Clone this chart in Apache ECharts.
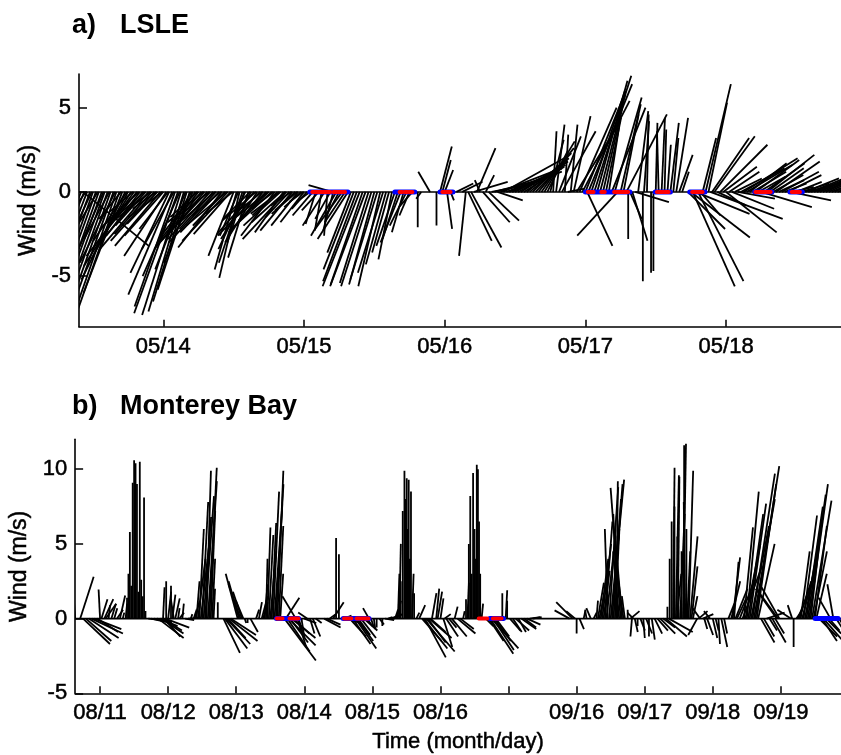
<!DOCTYPE html>
<html><head><meta charset="utf-8">
<script src="https://cdn.jsdelivr.net/npm/echarts@6/dist/echarts.min.js"></script>
<style>html,body{margin:0;padding:0;background:#fff}#c{width:841px;height:755px}</style>
</head><body><div id="c"></div>
<script>
// ---------- Panel a) LSLE : time in hours since 05/13 00:00, [hour, u (m/s), v (m/s)] ----------
const lsleStart = 9.62, lsleEnd = 139.6;
const lsleTickHours = [24, 48, 72, 96, 120];
const lsleTickLabels = ['05/14', '05/15', '05/16', '05/17', '05/18'];
const lsleYTicks = [-5, 0, 5];
const lsleSticks = [
 [10.0,-1.0,-2.4],[10.3,3.9,-3.2],[10.5,-1.6,-4.0],[11.0,-2.0,-5.2],[11.5,-2.2,-6.0],[12.0,-2.4,-6.8],[12.5,-2.6,-7.2],[13.0,-2.5,-7.0],[13.5,-2.7,-7.4],[14.0,-2.4,-6.6],
 [14.5,-2.6,-7.2],[15.0,-2.5,-7.0],[15.5,-2.6,-7.3],[16.0,-2.4,-6.9],[16.5,-2.5,-7.1],[17.0,-2.3,-6.0],[17.5,-2.6,-5.2],[18.0,-2.2,-4.0],[18.5,-2.8,-4.4],[19.0,-2.4,-3.3],
 [19.5,-3.0,-3.8],[20.0,-2.0,-2.6],[20.5,-2.6,-3.1],[21.0,-1.8,-2.0],[21.5,-2.9,-3.4],[22.0,-2.2,-2.5],[22.5,-2.6,-2.9],[23.0,-1.8,-1.9],[23.5,-2.7,-3.2],[24.0,-2.3,-2.6],
 [24.5,-2.5,-3.8],[25.0,-2.3,-4.8],[25.5,-2.6,-6.1],[26.0,-2.4,-6.8],[26.5,-2.6,-7.2],[27.0,-2.3,-7.3],[27.5,-2.1,-7.1],[28.0,-2.0,-6.5],[28.5,-1.9,-5.8],[29.0,-1.7,-4.2],
 [29.5,-2.2,-2.8],[30.0,-2.4,-3.0],[30.5,-2.8,-3.4],[31.0,-2.2,-2.6],[31.5,-3.0,-3.2],[32.0,-2.5,-2.8],[32.5,-2.0,-2.2],[33.0,-2.8,-3.0],[33.5,-2.3,-2.4],[34.0,-2.6,-3.3],
 [34.5,-1.9,-2.0],[35.0,-2.7,-2.9],[35.5,-2.2,-2.5],[36.0,-1.5,-3.8],[36.5,-1.3,-4.6],[37.0,-1.2,-5.1],[37.5,-1.4,-4.2],[38.0,-1.6,-3.4],[38.5,-1.2,-3.9],[39.0,-1.8,-2.8],
 [39.5,-2.2,-2.5],[40.0,-1.9,-3.0],[40.5,-2.5,-2.6],[41.0,-1.6,-2.0],[41.5,-2.2,-2.4],[42.0,-1.8,-1.7],[42.5,-2.4,-2.2],[43.0,-2.0,-2.6],[43.5,-1.5,-1.4],[44.0,-2.2,-2.0],
 [44.5,-1.7,-2.4],[45.0,-2.6,-2.8],[45.5,-1.4,-1.5],[46.0,-1.9,-2.3],[46.5,-1.2,-1.1],[47.0,-1.6,-2.0],[47.5,-1.0,-0.9],[48.0,-1.4,-1.8],[48.5,-0.9,-1.0],[49.0,-0.8,-0.6],
 [10.8,-0.9,-1.2],[11.8,-1.7,-3.6],[12.8,-1.2,-2.0],[13.8,-2.0,-4.6],[14.8,-1.5,-2.8],[15.8,-2.1,-4.2],[16.8,-1.3,-1.6],[17.8,-2.0,-2.9],[18.8,-1.4,-1.2],[19.8,-2.3,-2.2],
 [20.8,-1.6,-1.4],[21.8,-2.3,-1.8],[22.8,-1.4,-1.0],[23.8,-2.0,-1.5],[24.8,-1.7,-2.2],[25.8,-1.9,-3.4],[26.8,-2.2,-5.0],[27.8,-1.8,-4.6],[28.8,-1.4,-2.4],[29.8,-1.6,-1.5],
 [30.8,-2.1,-1.8],[31.8,-1.5,-1.2],[32.8,-2.2,-1.9],[33.8,-1.7,-1.4],[34.8,-2.4,-2.0],[35.8,-1.6,-1.3],[36.8,-1.1,-2.6],[37.8,-1.0,-3.0],[38.8,-1.6,-1.6],[39.8,-2.0,-1.7],
 [40.8,-1.5,-1.2],[41.8,-1.9,-1.5],[42.8,-1.3,-1.0],[43.8,-1.7,-1.3],[44.8,-2.0,-1.8],[45.8,-1.2,-0.8],[46.8,-1.5,-1.3],[47.8,-0.8,-0.6],
 [49.5,-1.2,-1.4],[50.0,-0.6,-1.9],[50.5,-1.0,-1.1],[51.0,-0.4,-2.3],[51.5,-1.3,-2.0],[52.0,-0.2,-2.6],[52.5,-0.9,-1.6],[52.8,-1.4,0.4],[53.0,-0.6,-2.3],[53.5,-1.5,-2.6],
 [54.0,-0.8,-1.5],[54.5,-1.6,-2.2],[55.0,-1.2,-1.8],[55.5,-1.8,-2.8],[56.0,-1.4,-3.6],[56.5,-1.8,-4.6],[57.0,-2.0,-5.3],[57.5,-2.2,-5.6],[58.0,-1.9,-5.5],[58.5,-2.1,-5.6],
 [59.0,-1.7,-5.4],[59.5,-1.8,-5.6],[60.0,-1.5,-5.5],[60.5,-1.6,-5.2],[61.0,-1.3,-5.6],[61.5,-1.5,-4.8],[62.0,-1.2,-4.3],[62.5,-1.0,-3.6],[63.0,-0.8,-4.0],[63.5,-1.1,-3.2],
 [64.0,-0.9,-2.8],[64.5,-1.2,-3.0],[65.0,-0.7,-2.4],[65.5,-1.0,-2.0],[66.0,-0.6,-1.4],[66.5,-0.8,-0.9],[67.4,0.0,-2.1],[68.0,-0.3,-0.4],[69.5,-0.7,1.2],[70.6,0.0,-2.0],
 [71.2,0.7,2.7],[71.6,0.5,1.9],[72.0,0.5,1.3],[72.4,0.3,-2.2],[73.0,0.2,-0.5],[74.0,1.0,0.5],[75.0,1.2,0.6],[75.6,-0.4,-3.8],[76.0,1.4,-2.9],[76.5,1.8,-3.3],
 [77.0,2.0,0.6],[77.5,1.1,2.6],[78.0,-0.3,0.7],[78.5,1.6,-1.8],[79.0,0.5,1.0],[79.5,1.8,-1.7],[80.0,2.6,0.5],[80.5,3.0,0.8],[81.0,1.5,-0.5],[81.5,3.6,1.4],
 [82.0,3.8,2.1],[82.5,3.3,1.2],[83.0,3.0,1.3],[83.5,2.8,1.2],[84.0,3.0,1.6],[84.5,2.6,1.4],[85.0,2.8,1.8],[85.5,2.4,1.5],[86.0,2.5,2.0],[86.5,2.2,1.8],
 [87.0,2.3,2.3],[87.5,1.9,2.0],[88.0,2.1,2.6],[88.5,1.6,2.3],[89.0,1.8,3.0],[89.5,1.2,2.4],[90.0,0.8,3.1],[90.5,0.2,3.6],[91.0,0.5,4.0],[91.5,1.3,3.3],
 [92.0,2.0,3.6],[92.5,0.2,3.4],[93.0,1.0,0.2],[93.5,0.4,4.0],[94.0,1.0,4.5],[94.5,2.6,4.2],[95.0,2.2,5.0],[95.5,2.8,5.4],[96.0,2.4,6.0],[96.3,1.5,-3.2],
 [96.5,2.6,6.4],[97.0,2.0,6.0],[97.5,2.2,6.9],[98.0,1.8,6.6],[98.5,1.5,5.8],[99.0,1.2,5.2],[99.5,0.9,4.4],[100.0,0.6,3.8],[100.5,2.0,5.0],[101.0,1.6,5.6],
 [101.5,-2.4,-2.6],[102.0,1.2,5.2],[102.5,0.9,4.6],[103.0,2.4,4.6],[103.3,0.0,-2.8],[103.6,0.7,-1.6],[104.0,0.9,-2.9],[104.5,2.0,-0.6],[105.0,0.6,4.8],[105.8,0.0,-5.3],
 [106.0,0.3,4.2],[106.5,0.1,4.6],[107.2,0.0,-4.8],[107.6,0.0,-4.7],[108.0,0.1,4.1],[108.5,-0.1,3.6],[109.0,0.2,4.4],[109.5,0.1,3.7],[110.0,0.2,2.8],[110.5,0.5,4.1],
 [111.0,0.3,3.2],[111.5,0.7,4.4],[112.0,0.8,2.2],[112.5,0.4,1.2],[113.5,2.2,-2.2],[114.0,3.5,-2.7],[114.3,2.5,-5.6],[114.8,3.2,-1.3],[115.2,2.7,-5.3],[115.6,1.2,-1.4],
 [116.0,0.8,3.2],[116.5,1.5,6.4],[117.0,1.1,5.3],[117.3,4.3,-1.6],[117.6,2.2,3.2],[118.0,2.4,3.3],[118.5,1.7,-0.8],[119.0,2.8,2.8],[119.5,2.0,1.5],[120.0,3.0,-2.4],
 [120.5,1.8,1.2],[121.0,2.5,-1.0],[121.5,1.6,0.8],[122.0,2.2,-0.4],[122.5,2.6,1.4],[123.0,3.2,2.0],[123.5,2.7,1.6],[124.0,2.2,1.7],[124.5,2.0,1.2],[125.0,2.6,1.9],
 [125.5,1.6,0.9],[126.0,3.0,-0.9],[126.5,2.4,1.7],[127.0,2.8,2.2],[127.5,2.0,1.4],[128.0,1.8,1.0],[128.5,2.6,1.8],[129.0,1.5,0.7],[129.5,2.2,1.2],[130.0,1.3,0.5],
 [130.5,2.0,1.0],[131.0,2.4,-0.5],[131.5,1.2,0.3],[132.0,1.5,0.6],[132.5,1.0,0.2],[133.0,1.6,0.5],[133.5,2.0,0.8],[134.0,1.4,0.4],[134.5,2.2,0.9],[135.0,2.5,1.0],
 [135.5,1.8,0.7],[136.0,2.6,1.2],[136.5,2.2,1.0],[137.0,2.8,1.3],[137.5,2.4,1.1],[138.0,2.9,1.2],[138.5,2.6,1.3],[139.0,3.0,1.2],[139.5,2.7,1.4]
];
const lsleBlue = [[49.0,55.5],[63.5,66.9],[71.2,73.4],[96.0,103.6],[107.9,110.5],[113.8,116.4],[124.9,127.8],[130.9,133.0]];
const lsleRed = [[49.4,52.5],[53.0,55.0],[64.3,64.8],[65.2,65.7],[66.0,66.5],[71.6,73.0],[96.4,97.4],[98.7,99.3],[100.9,103.3],[108.2,109.2],[109.5,110.2],[114.2,116.0],[125.0,127.6],[131.2,132.6]];

// ---------- Panel b) Monterey Bay : hours on the concatenated axis (08/11 00:00 = 0) ----------
const mbayStart = -8.8, mbayEnd = 261.2;
const mbayTickHours = [0, 24, 48, 72, 96, 120, 144, 168, 192, 216, 240];
const mbayTickLabels = ['08/11', '08/12', '08/13', '08/14', '08/15', '08/16', '', '09/16', '09/17', '09/18', '09/19'];
const mbayYTicks = [-5, 0, 5, 10];
const mbaySticks = [
 [-8.8,-0.2,3.1],[-7.0,0.9,2.8],[-6.0,1.8,-1.7],[-5.0,1.7,-1.5],[-4.0,2.0,-1.3],[-3.0,2.1,-1.0],[-2.0,1.8,-0.7],[-1.0,1.4,-0.9],[0.0,-0.1,1.95],[0.5,0.4,1.3],
 [1.5,0.6,1.3],[2.0,0.7,1.0],[3.0,0.1,0.9],[4.0,0.3,1.0],[5.0,0.2,0.7],[6.0,0.4,0.6],[7.0,0.35,1.55],[8.0,0.1,0.4],[9.0,0.1,1.0],[9.5,0.0,1.4],
 [10.0,0.0,3.0],[10.5,0.0,5.8],[11.0,0.0,2.2],[11.5,0.0,9.1],[12.0,0.0,10.6],[12.5,0.0,10.4],[13.0,0.0,9.0],[13.5,0.0,1.8],[14.0,0.0,10.5],[14.5,0.0,2.6],
 [15.0,0.0,1.5],[15.5,0.0,8.1],[16.0,0.0,0.5],[17.0,1.0,-0.1],[18.0,0.9,-0.2],[19.0,1.2,-0.3],[20.0,1.0,-0.2],[20.5,1.7,-1.3],[21.0,1.2,-0.5],[21.5,1.5,-1.0],
 [22.0,1.3,-0.8],[22.2,0.1,2.1],[22.5,1.1,-1.2],[23.0,1.6,-0.6],[23.3,0.0,2.5],[24.0,0.2,1.8],[25.0,0.0,2.2],[25.5,0.2,1.6],[26.0,-0.2,1.3],[26.5,0.3,1.35],
 [27.5,0.1,0.7],[28.0,0.3,0.4],[29.0,0.1,1.0],[30.0,0.6,-0.1],[31.0,0.8,0.05],[32.0,0.1,0.3],[33.0,0.2,0.6],[33.5,0.3,1.2],[34.0,0.2,2.5],[34.5,0.5,4.0],
 [35.0,0.3,6.0],[35.5,0.6,5.3],[36.0,0.4,7.8],[36.5,0.5,6.8],[37.0,0.6,8.2],[37.5,0.3,9.9],[38.0,0.6,9.2],[38.5,0.5,10.1],[39.0,0.3,7.2],[39.5,0.2,4.0],
 [40.0,0.1,2.0],[41.5,0.0,1.1],[43.5,1.1,-2.3],[44.0,1.5,-2.0],[44.5,1.6,-1.7],[45.0,1.2,-1.3],[45.5,1.9,-1.5],[46.0,1.7,-1.1],[48.5,-0.8,3.0],[49.0,-0.7,2.5],
 [49.5,-0.8,2.3],[50.0,-0.6,1.8],[50.5,-0.5,1.2],[51.0,0.1,-0.3],[52.0,0.0,-0.3],[53.0,0.5,-0.9],[55.0,0.2,0.6],[56.0,0.2,1.1],[57.0,0.4,1.5],[57.5,0.3,1.1],
 [58.0,0.2,2.3],[58.5,0.1,4.0],[59.0,0.2,6.1],[59.5,0.3,5.6],[60.0,0.4,4.5],[60.5,0.3,6.4],[61.0,0.4,8.5],[61.5,0.5,7.3],[62.0,0.5,9.0],[62.5,0.4,9.9],
 [63.0,0.3,6.2],[63.5,0.2,3.0],[65.0,2.1,-2.8],[65.5,0.9,1.4],[66.0,1.5,-2.2],[66.5,1.8,-1.8],[67.0,1.2,-1.6],[67.5,1.6,-1.3],[68.0,1.1,-1.0],[69.0,-0.9,1.5],
 [69.5,0.6,-1.9],[70.0,0.3,-1.0],[71.0,0.2,-1.3],[72.0,0.8,-0.3],[73.0,-0.6,0.4],[74.0,0.3,-1.0],[75.0,0.5,-1.2],[76.0,0.4,-0.3],[79.0,1.1,-0.6],[80.0,0.9,-0.4],
 [81.0,0.4,0.3],[82.2,0.7,1.1],[83.2,0.0,5.4],[84.2,0.0,4.3],[86.0,0.5,0.2],[87.0,0.9,-0.3],[88.0,1.1,-1.2],[89.0,1.2,-1.7],[90.0,1.4,-2.0],[90.5,1.1,-1.5],
 [91.0,0.8,-1.1],[92.0,1.0,-1.3],[93.0,0.9,-0.8],[94.0,0.4,-0.5],[94.8,-0.4,0.7],[95.5,0.2,-0.6],[96.5,0.1,-0.7],[97.5,0.0,-0.6],[98.5,0.3,-0.4],[99.5,0.0,-0.5],
 [100.5,0.6,-0.1],[101.5,0.3,0.1],[102.5,0.5,0.2],[103.5,0.6,0.3],[104.0,0.2,0.6],[104.5,0.3,1.2],[105.0,0.1,3.0],[105.5,0.1,5.0],[106.0,0.0,2.5],[106.7,0.0,7.2],
 [107.3,0.0,9.9],[107.7,0.0,8.0],[108.1,0.0,9.4],[108.5,0.0,6.0],[108.8,0.0,9.3],[109.2,0.0,4.0],[109.6,0.0,8.5],[110.0,0.1,3.0],[110.7,0.0,1.7],[111.5,0.2,0.4],
 [112.5,0.4,0.9],[113.5,1.3,-1.5],[114.0,1.6,-2.0],[114.5,1.4,-2.6],[115.0,1.9,-2.2],[115.5,1.2,-1.6],[116.0,1.5,-1.3],[116.5,1.0,-0.9],[117.0,0.3,1.7],[118.5,0.2,2.0],
 [119.0,0.3,1.8],[120.0,0.2,1.35],[121.0,0.6,-1.9],[121.5,0.4,0.3],[122.0,0.8,-1.2],[123.0,0.5,-0.6],[124.0,1.0,-1.2],[125.0,0.2,0.8],[126.0,1.2,-1.0],[127.0,0.9,-0.7],
 [128.0,0.1,0.5],[129.0,0.0,1.3],[129.5,0.1,2.4],[130.0,0.0,5.0],[130.5,0.0,8.2],[131.0,0.0,3.0],[131.5,0.0,9.75],[132.0,0.0,6.0],[132.5,0.0,4.0],[132.8,0.0,10.3],
 [133.2,0.0,10.0],[133.6,0.0,6.5],[134.0,0.0,3.0],[134.5,0.1,1.0],[136.0,0.5,-0.5],[137.0,1.0,-1.5],[137.5,1.55,-2.35],[138.0,1.8,-2.0],[138.5,1.4,-2.1],[139.0,1.1,-1.5],
 [139.5,0.9,-1.2],[141.8,0.0,1.7],[143.0,0.1,1.9],[143.5,0.0,1.2],[144.5,0.7,-0.8],[145.5,0.6,-0.9],[146.5,0.9,-0.8],[147.5,0.5,-0.9],[148.5,1.0,-0.7],[149.5,0.8,-0.6],
 [150.5,0.9,-0.4],[151.5,0.7,0.1],[152.5,0.6,0.1],
 [165.5,-1.0,0.55],[166.6,-1.1,1.1],[167.5,-0.6,0.5],[168.0,0.0,-1.0],[169.0,0.3,-0.7],[170.5,0.1,0.5],[171.5,-0.1,0.6],[173.0,-0.3,0.7],[174.0,0.2,0.4],[175.0,0.1,1.2],
 [175.5,0.4,2.4],[176.0,0.3,1.5],[176.5,0.5,4.0],[177.0,0.6,5.0],[177.5,0.4,3.2],[178.0,0.5,6.5],[178.5,0.6,5.5],[179.0,-0.2,6.0],[179.5,0.6,8.8],[180.0,0.9,9.3],
 [180.5,0.7,9.0],[181.0,0.5,8.0],[181.5,0.3,6.0],[182.0,0.1,9.2],[182.5,-0.3,7.0],[183.0,-0.4,4.5],[183.5,-0.67,8.75],[184.0,-0.5,6.0],[184.5,-0.4,3.0],[185.0,-0.2,1.5],
 [186.0,0.0,0.6],[187.0,0.6,0.5],[187.5,-0.1,-1.2],[188.0,-0.4,0.4],[188.5,0.2,-0.9],[189.5,0.0,-0.5],[190.5,0.3,-0.8],[191.5,0.1,-1.3],[192.5,0.4,-1.0],[193.5,0.0,-1.2],
 [194.5,0.2,-1.4],[195.5,0.5,-1.0],[196.5,0.7,-0.8],[197.5,1.0,-1.0],[198.5,0.8,-0.6],[199.5,1.4,-1.2],[200.0,0.0,0.8],[200.5,1.6,-0.9],[200.8,0.0,4.0],[201.5,0.0,6.5],
 [202.0,0.1,10.1],[202.5,0.0,7.5],[203.0,0.2,9.6],[203.3,0.3,3.0],[203.7,0.1,9.5],[204.0,-0.1,5.5],[204.5,0.3,7.0],[205.0,0.0,4.5],[205.5,0.2,11.7],[205.9,0.0,11.6],
 [206.3,-0.1,7.8],[206.7,0.0,6.0],[207.0,0.2,4.5],[207.5,0.3,9.9],[208.0,0.5,5.5],[208.5,0.4,3.5],[209.0,0.3,1.5],[210.5,-0.6,-1.1],[211.0,0.6,0.5],[211.5,-0.5,0.7],
 [212.5,0.7,0.3],[213.0,0.2,-0.7],[214.0,0.4,-1.1],[215.0,-0.4,0.5],[216.0,0.3,-1.3],[217.0,0.2,-0.8],[218.0,0.1,-1.7],[219.0,0.4,-1.9],[220.0,0.2,-1.0],[221.5,0.4,1.0],
 [222.5,0.6,2.5],[223.0,0.5,4.1],[223.5,0.3,3.8],[224.0,0.8,2.0],[224.5,0.6,1.3],[225.5,1.0,2.6],[226.5,1.3,3.5],[227.0,0.6,6.1],[227.5,1.0,5.0],[228.0,0.8,8.5],
 [228.5,1.0,7.0],[229.0,1.1,7.7],[229.5,1.2,6.2],[230.0,1.5,9.7],[230.5,1.4,8.0],[231.0,1.6,10.2],[231.5,1.3,9.0],[232.0,1.1,5.0],[233.0,0.9,-1.6],[234.0,0.7,-1.2],
 [235.0,1.2,0.4],[236.0,0.5,-0.8],[237.0,0.9,-1.6],[238.0,0.6,-1.0],[238.5,-1.4,2.0],[239.0,-1.3,1.8],[239.5,-1.2,2.1],[243.5,-0.9,0.6],[244.0,-0.3,0.9],[244.5,0.0,-1.9],
 [245.5,0.4,0.6],[246.0,0.6,1.5],[246.5,0.8,2.5],[247.0,0.6,4.5],[247.5,0.9,3.5],[248.0,0.9,6.9],[248.5,1.0,5.5],[249.0,1.1,7.5],[249.5,1.2,8.3],[250.0,1.25,9.0],
 [250.5,0.8,7.0],[251.0,1.3,7.9],[251.5,0.9,4.5],[252.0,0.8,6.2],[252.5,0.7,3.0],[253.5,1.2,-1.2],[254.5,1.0,-1.5],[255.0,1.5,-1.7],[256.0,1.0,-1.0],[257.0,0.7,-0.8],
 [257.5,-0.8,1.4],[258.5,-0.4,2.3],[259.5,0.9,-1.4],[260.5,0.6,-0.9]
];
const mbayBlue = [[62.2,70.0],[85.7,94.8],[137.4,142.2],[252.1,260.2]];
const mbayRed = [[62.3,64.3],[66.8,69.9],[86.0,88.6],[90.4,94.6],[133.5,136.5],[138.5,141.5]];

// ---------- rendering ----------
const FONT = 'Arial, "Liberation Sans", Helvetica, sans-serif';
const chart = echarts.init(document.getElementById('c'));

function stickSeries(idx, data) {
  return {
    type: 'custom', xAxisIndex: idx, yAxisIndex: idx, clip: true, z: 2, silent: true,
    data: data, encode: { x: 0, y: 2 },
    renderItem: function (params, api) {
      const t = api.value(0), u = api.value(1), v = api.value(2);
      const p0 = api.coord([t, 0]);
      const pv = api.coord([t, v]);
      const unit = api.size([0, 1])[1]; // pixels per m/s (equal aspect, as in a stick plot)
      return { type: 'line', shape: { x1: p0[0], y1: p0[1], x2: p0[0] + u * unit, y2: pv[1] },
               style: { stroke: '#000', lineWidth: 1.8 } };
    }
  };
}
function segSeries(idx, data, color, width, z) {
  return {
    type: 'custom', xAxisIndex: idx, yAxisIndex: idx, clip: true, z: z, silent: true,
    data: data, encode: { x: [0, 1] },
    renderItem: function (params, api) {
      const a = api.coord([api.value(0), 0]), b = api.coord([api.value(1), 0]);
      return { type: 'line', shape: { x1: a[0], y1: a[1], x2: b[0], y2: b[1] },
               style: { stroke: color, lineWidth: width, lineCap: 'round' } };
    }
  };
}
function zeroLine(idx, a, b) {
  return { type: 'line', xAxisIndex: idx, yAxisIndex: idx, data: [[a, 0], [b, 0]], symbol: 'none',
           lineStyle: { color: '#000', width: 1.6 }, z: 3, silent: true };
}
const TXT = { color: '#000', fontFamily: FONT, textBorderColor: '#000', textBorderWidth: 0.5 };
function xAxisCfg(idx, min, max, ticks, labels, name) {
  return {
    type: 'value', gridIndex: idx, min: min, max: max,
    axisLine: { show: true, onZero: false, lineStyle: { color: '#000', width: 1.6 } },
    axisTick: { show: true, inside: true, length: 7, customValues: ticks, lineStyle: { color: '#000', width: 1.5 } },
    axisLabel: Object.assign({ customValues: ticks, margin: 9, fontSize: 22,
                 formatter: function (v) { const i = ticks.indexOf(v); return i >= 0 ? labels[i] : ''; } }, TXT),
    splitLine: { show: false },
    name: name || '', nameLocation: 'middle', nameGap: 38,
    nameTextStyle: Object.assign({ fontSize: 22 }, TXT)
  };
}
function yAxisCfg(idx, min, max, ticks, gap) {
  return {
    type: 'value', gridIndex: idx, min: min, max: max,
    axisLine: { show: true, onZero: false, lineStyle: { color: '#000', width: 1.6 } },
    axisTick: { show: true, inside: true, length: 8, customValues: ticks, lineStyle: { color: '#000', width: 1.5 } },
    axisLabel: Object.assign({ customValues: ticks, margin: 8, fontSize: 22 }, TXT),
    splitLine: { show: false },
    name: 'Wind (m/s)', nameLocation: 'middle', nameGap: gap, nameRotate: 90,
    nameTextStyle: Object.assign({ fontSize: 23 }, TXT)
  };
}

chart.setOption({
  animation: false,
  backgroundColor: '#fff',
  grid: [
    { left: 79, right: 0, top: 74, bottom: 428.3 },
    { left: 73.3, right: 0, top: 439.3, bottom: 61.7 }
  ],
  xAxis: [
    xAxisCfg(0, lsleStart, lsleEnd, lsleTickHours, lsleTickLabels),
    xAxisCfg(1, mbayStart, mbayEnd, mbayTickHours, mbayTickLabels, 'Time (month/day)')
  ],
  yAxis: [
    yAxisCfg(0, -8, 7, lsleYTicks, 35),
    yAxisCfg(1, -5, 12, mbayYTicks, 40)
  ],
  graphic: [
    { type: 'text', left: 72, top: 12, style: { text: 'a)', font: 'bold 27px ' + FONT, fill: '#000' } },
    { type: 'text', left: 120, top: 12, style: { text: 'LSLE', font: 'bold 27px ' + FONT, fill: '#000' } },
    { type: 'text', left: 72, top: 393, style: { text: 'b)', font: 'bold 27px ' + FONT, fill: '#000' } },
    { type: 'text', left: 120, top: 393, style: { text: 'Monterey Bay', font: 'bold 27px ' + FONT, fill: '#000' } }
  ],
  series: [
    stickSeries(0, lsleSticks),
    zeroLine(0, lsleStart, lsleEnd),
    segSeries(0, lsleBlue, '#0000ff', 5, 4),
    segSeries(0, lsleRed, '#ff0000', 4, 5),
    stickSeries(1, mbaySticks),
    zeroLine(1, mbayStart, mbayEnd),
    segSeries(1, mbayBlue, '#0000ff', 5, 4),
    segSeries(1, mbayRed, '#ff0000', 4, 5)
  ]
});
</script>
</body></html>
